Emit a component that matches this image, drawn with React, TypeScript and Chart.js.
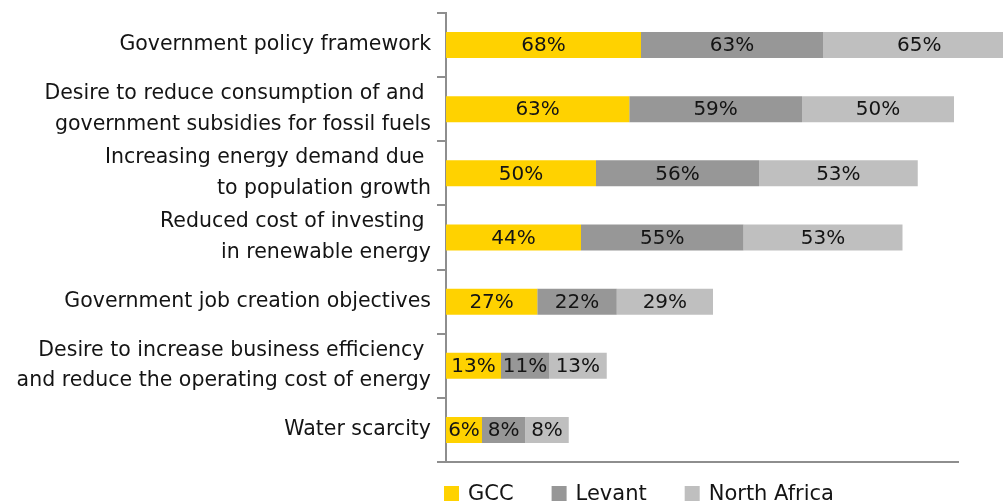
import React, { useEffect, useRef } from "react";
import { Chart, registerables } from "chart.js";

Chart.register(...registerables);

const categories: (string | string[])[] = [
  "Government policy framework",
  ["Desire to reduce consumption of and ", "government subsidies for fossil fuels"],
  ["Increasing energy demand due ", "to population growth"],
  ["Reduced cost of investing ", "in renewable energy"],
  "Government job creation objectives",
  ["Desire to increase business efficiency ", "and reduce the operating cost of energy"],
  "Water scarcity",
];

const seriesNames = ["GCC", "Levant", "North Africa"];
const seriesColors = ["#FFD200", "#979797", "#BFBFBF"];

// Percentages printed on the bars
const gccLabels = [68, 63, 50, 44, 27, 13, 6];
const levantLabels = [63, 59, 56, 55, 22, 11, 8];
const northAfricaLabels = [65, 50, 53, 53, 29, 13, 8];

// Bar lengths as drawn in the picture (axis units)
const gccBars = [78, 73.3, 60, 54, 36.5, 22, 14.4];
const levantBars = [72.8, 69.1, 65.2, 65, 31.8, 19.2, 17.3];
const northAfricaBars = [77, 60.8, 63.5, 63.6, 38.5, 23.1, 17.4];

const axisMax = 204.8;
const FONT = "'DejaVu Sans', sans-serif";
const TEXT = "#141414";
const AXIS = "#8e8e8e";

const valueLabelPlugin = {
  id: "valueLabels",
  afterDatasetsDraw(chart: any) {
    const ctx = chart.ctx;
    ctx.save();
    ctx.font = `20px ${FONT}`;
    ctx.fillStyle = TEXT;
    ctx.textAlign = "center";
    ctx.textBaseline = "middle";
    chart.data.datasets.forEach((ds: any, di: number) => {
      const meta = chart.getDatasetMeta(di);
      meta.data.forEach((bar: any, i: number) => {
        const { x, base, y } = bar.getProps(["x", "base", "y"], true);
        ctx.fillText(ds.pctLabels[i] + "%", (x + base) / 2, y + 1);
      });
    });
    ctx.restore();
  },
};

const legendPlugin = {
  id: "bottomLegend",
  afterDraw(chart: any) {
    const ctx = chart.ctx;
    const { left, bottom } = chart.chartArea;
    ctx.save();
    ctx.font = `21px ${FONT}`;
    ctx.textAlign = "left";
    ctx.textBaseline = "alphabetic";
    let x = left - 2;
    const baseline = bottom + 38;
    chart.data.datasets.forEach((ds: any) => {
      ctx.fillStyle = ds.backgroundColor;
      ctx.fillRect(x, baseline - 14, 15, 15);
      ctx.fillStyle = TEXT;
      ctx.fillText(ds.label, x + 24, baseline);
      x += 24 + ctx.measureText(ds.label).width + 38;
    });
    ctx.restore();
  },
};

export default function App() {
  const canvasRef = useRef<HTMLCanvasElement | null>(null);

  useEffect(() => {
    document.body.style.margin = "0";
    const canvas = canvasRef.current;
    if (!canvas) return;
    const makeDs = (i: number, data: number[], labels: number[]) => ({
      label: seriesNames[i],
      data,
      pctLabels: labels,
      backgroundColor: seriesColors[i],
      borderWidth: 0,
      categoryPercentage: 1,
      barPercentage: 0.405,
      clip: false as any,
    });
    const chart = new Chart(canvas, {
      type: "bar",
      data: {
        labels: categories,
        datasets: [
          makeDs(0, gccBars, gccLabels),
          makeDs(1, levantBars, levantLabels),
          makeDs(2, northAfricaBars, northAfricaLabels),
        ] as any,
      },
      options: {
        indexAxis: "y",
        responsive: false,
        animation: false,
        layout: { padding: { top: 13, right: 45, bottom: 40, left: 0 } },
        plugins: { legend: { display: false }, tooltip: { enabled: false } },
        scales: {
          x: {
            stacked: true,
            min: 0,
            max: axisMax,
            ticks: { display: false },
            grid: { display: false, drawTicks: false },
            border: { display: true, color: AXIS, width: 2 },
          },
          y: {
            stacked: true,
            offset: true,
            grid: {
              offset: true,
              drawOnChartArea: false,
              drawTicks: true,
              tickLength: 9,
              color: AXIS,
              lineWidth: 2,
            },
            border: { display: true, color: AXIS, width: 2 },
            ticks: {
              padding: 6,
              autoSkip: false,
              color: TEXT,
              font: { family: FONT, size: 20.5, lineHeight: 1.5 },
            },
            afterFit(scale: any) {
              scale.width = 446;
              scale.paddingTop = 0;
              scale.paddingBottom = 0;
            },
          },
        },
      },
      plugins: [valueLabelPlugin, legendPlugin],
    });
    return () => chart.destroy();
  }, []);

  return (
    <div style={{ width: 1003, height: 502 }}>
      <canvas ref={canvasRef} width={1003} height={502} style={{ display: "block" }} />
    </div>
  );
}
